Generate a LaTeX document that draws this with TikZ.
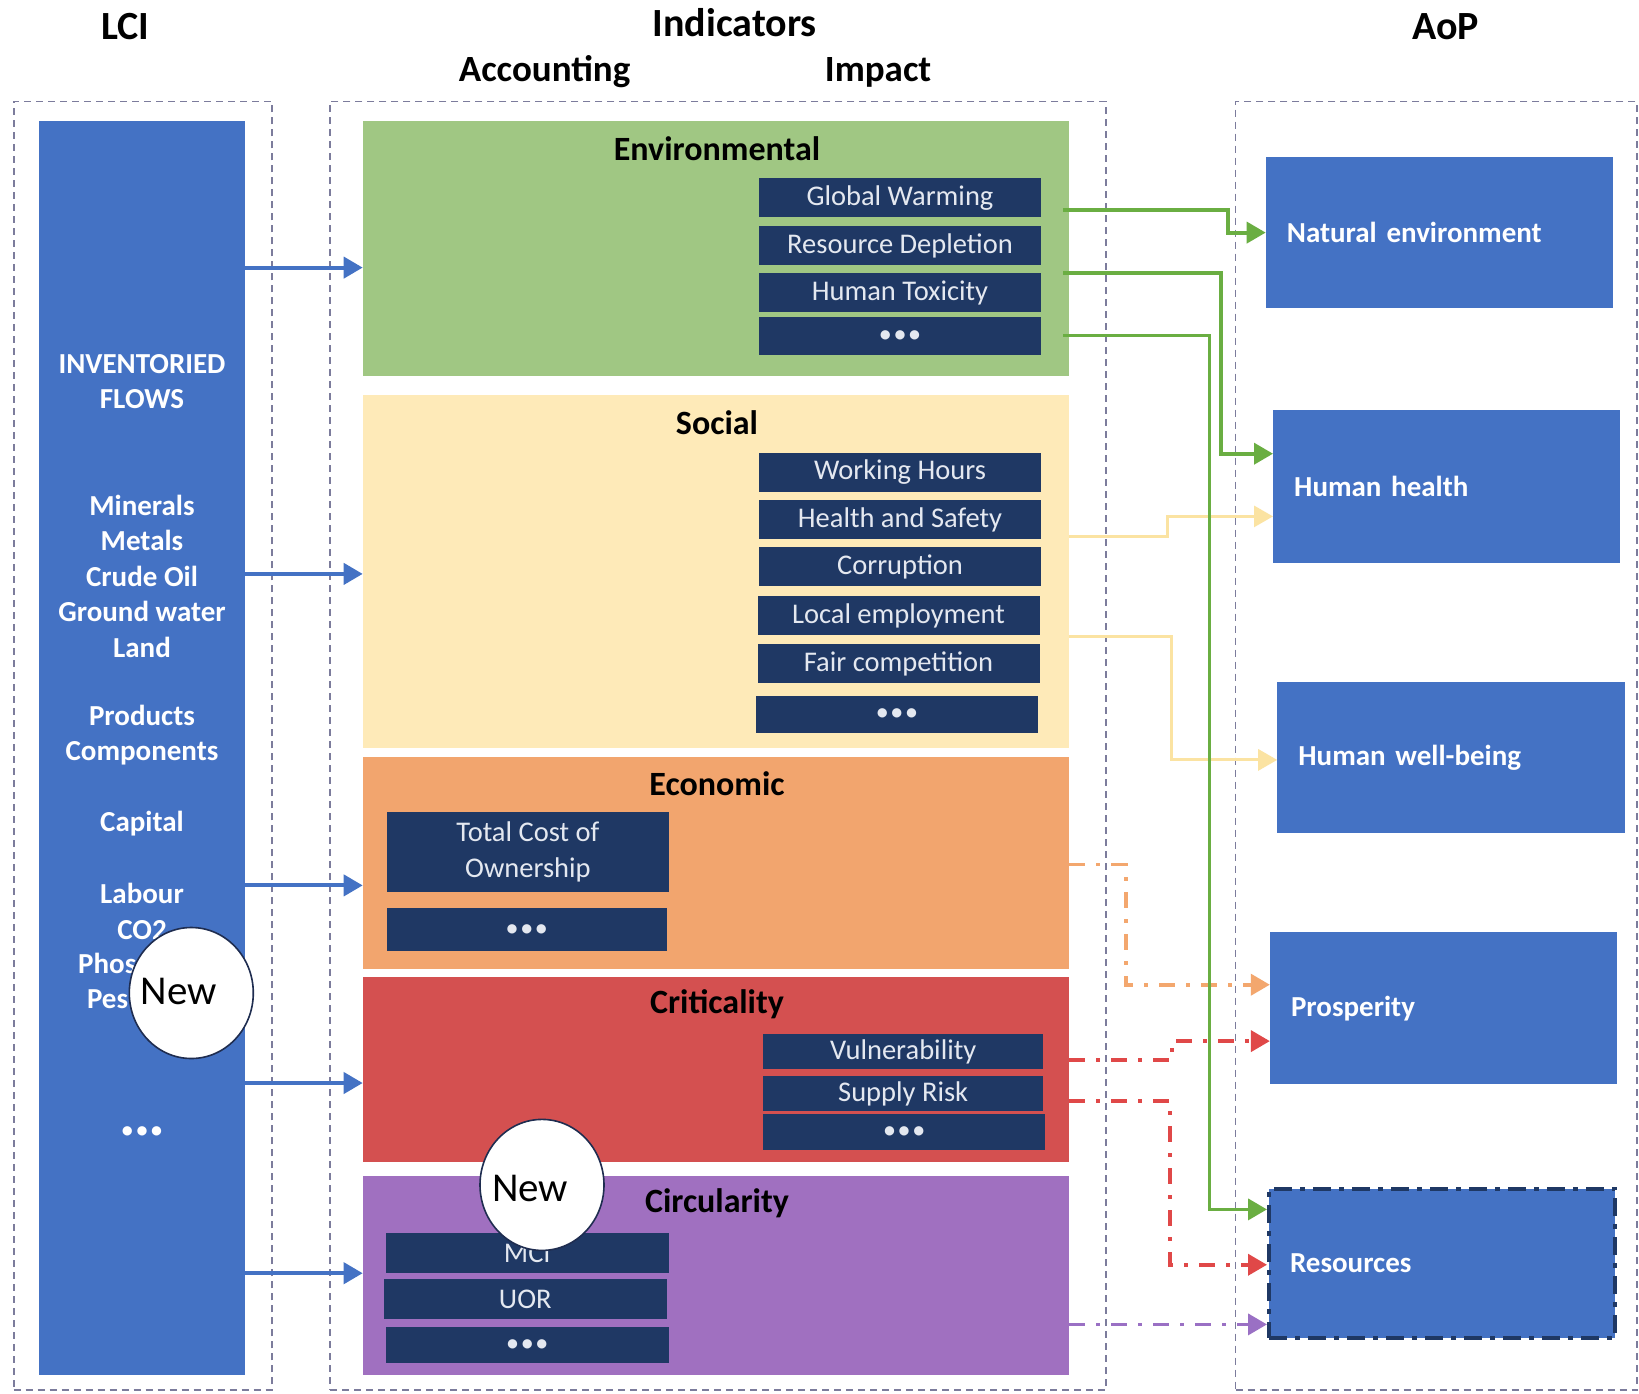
\documentclass[tikz,border=0pt]{standalone}
\usepackage{fontspec}
\setmainfont{Carlito}
\usetikzlibrary{arrows.meta,shapes.geometric,calc}
\definecolor{lciblue}{HTML}{4472C4}
\definecolor{navy}{HTML}{1F3864}
\definecolor{envg}{HTML}{A0C783}
\definecolor{socy}{HTML}{FEEAB8}
\definecolor{ecoo}{HTML}{F2A56E}
\definecolor{crit}{HTML}{D45050}
\definecolor{circ}{HTML}{A070C0}
\definecolor{gline}{HTML}{6AAE42}
\definecolor{yline}{HTML}{FBE3A2}
\definecolor{oline}{HTML}{F3A76E}
\definecolor{rline}{HTML}{E04848}
\definecolor{pline}{HTML}{9A70C4}
\definecolor{dashc}{HTML}{7C7C9C}
\definecolor{boxtxt}{HTML}{E4E8F0}
\definecolor{circedge}{HTML}{1F2D50}
\begin{document}
\begin{tikzpicture}[x=1pt,y=-1pt,
  encl/.style={draw=dashc, line width=1.8pt, dash pattern=on 7pt off 5pt, inner sep=0, minimum height=1288.8pt},
  panel/.style={minimum width=706.6pt, inner sep=0, outer sep=0},
  ptitle/.style={font=\fontsize{34}{40}\bfseries\selectfont, inner sep=0},
  htitle/.style={font=\fontsize{40}{48}\bfseries\selectfont, inner sep=0, anchor=base},
  stitle/.style={font=\fontsize{37}{44}\bfseries\selectfont, inner sep=0, anchor=base},
  ib/.style={fill=navy, text=boxtxt, font=\fontsize{28.5}{35.5}\selectfont, inner sep=0, minimum width=282pt, minimum height=39pt, align=center},
  dots/.style={font=\fontsize{22}{22}\bfseries\selectfont},
  lcit/.style={text=white, font=\fontsize{29}{35.5}\bfseries\selectfont, inner sep=0, align=center},
  aop/.style={fill=lciblue, text=white, font=\fontsize{29}{35}\bfseries\selectfont, inner xsep=21pt, inner ysep=0, text width=305pt, align=left},
  tip/.style={-{Triangle[length=19pt,width=21pt]}},
  barrow/.style={draw=lciblue, line width=4pt, tip},
  gconn/.style={draw=gline, line width=3.8pt, tip},
  yconn/.style={draw=yline, line width=3pt, tip},
  ddconn/.style={line width=3.8pt, dash pattern=on 16pt off 11pt on 4pt off 11pt, tip},
  newc/.style={ellipse, draw=circedge, line width=1.6pt, fill=white, minimum width=124pt, minimum height=131pt, inner sep=0},
  newt/.style={font=\fontsize{41}{48}\selectfont, inner sep=0}
]
\useasboundingbox (0,0) rectangle (1639,1393);
\fill[white] (0,0) rectangle (1639,1393);

% headings
\node[htitle] (hlci) at (125.4,39.7) {LCI};
\node[htitle] (hind) at (734.8,36.6) {Indicators};
\node[htitle] (haop) at (1445.7,39.7) {AoP};
\node[stitle] (hacc) at (544.6,81.5) {Accounting};
\node[stitle] (himp) at (878.1,81.5) {Impact};

% enclosures
\node[encl, minimum width=258.2pt] (lcibox) at (142.7,745.8) {};
\node[encl, minimum width=775.6pt] (indbox) at (718.1,745.8) {};
\node[encl, minimum width=401.5pt] (aopbox) at (1436.25,745.8) {};

% LCI column
\node[fill=lciblue, minimum width=205.9pt, minimum height=1253.3pt, inner sep=0] (lci) at (141.65,747.95) {};
\node[lcit] (l1) at (142,381.5) {INVENTORIED\\FLOWS};
\node[lcit] (l2) at (142,576) {Minerals\\Metals\\Crude Oil\\Ground water\\Land};
\node[lcit] (l3) at (142,734.9) {Products\\Components};
\node[lcit] (l4) at (142,823.7) {Capital};
\node[lcit] (l5) at (142,911.5) {Labour\\CO2};
\node[lcit, anchor=west] (l6) at (78,963.8) {Phos};
\node[lcit, anchor=west] (l7) at (86.8,999.3) {Pes};
\node[lcit, dots] (l8) at (142,1132.1) {•\,•\,•};

% panels
\node[panel, fill=envg, minimum height=255pt] (env) at (716,248.8) {};
\node[panel, fill=socy, minimum height=353.3pt] (soc) at (716,571.75) {};
\node[panel, fill=ecoo, minimum height=212.2pt] (eco) at (716,862.9) {};
\node[panel, fill=crit, minimum height=185pt] (cri) at (716,1069.9) {};
\node[panel, fill=circ, minimum height=198.6pt] (cir) at (716,1275.3) {};

\node[ptitle] (tenv) at (717,148.4) {Environmental};
\node[ptitle] (tsoc) at (717,422.3) {Social};
\node[ptitle] (teco) at (717,784) {Economic};
\node[ptitle] (tcri) at (717,1004.5) {Criticality};
\node[ptitle] (tcir) at (717,1203.1) {Circularity};

% environmental
\node[ib] (gw) at (900,197.6) {Global Warming};
\node[ib] (rd) at (900,245.6) {Resource Depletion};
\node[ib] (ht) at (900,292.7) {Human Toxicity};
\node[ib, dots, minimum height=38.6pt] (ed) at (900,336) {•\,•\,•};

% social
\node[ib] (wh) at (900,472.5) {Working Hours};
\node[ib] (hs) at (900,519.5) {Health and Safety};
\node[ib] (co) at (900,566.5) {Corruption};
\node[ib] (le) at (898.5,615.7) {Local employment};
\node[ib] (fc) at (898.5,663.8) {Fair competition};
\node[ib, dots, minimum height=36.6pt] (sd) at (896.9,714.5) {•\,•\,•};

% economic
\node[ib, minimum width=282.2pt, minimum height=79.4pt] (tco) at (527.9,851.9) {Total Cost of\\Ownership};
\node[ib, dots, minimum width=280pt, minimum height=42.8pt] (ecd) at (526.8,929.8) {•\,•\,•};

% criticality
\node[ib, minimum width=280pt, minimum height=35.5pt] (vu) at (903.2,1051.6) {Vulnerability};
\node[ib, minimum width=280pt, minimum height=35.5pt] (sr) at (903.2,1093.4) {Supply Risk};
\node[ib, dots, minimum width=282pt, minimum height=35.5pt] (crd) at (904.2,1132) {•\,•\,•};

% circularity
\node[ib, minimum width=283.3pt, minimum height=39.7pt] (mci) at (527.3,1253.3) {MCI};
\node[ib, minimum width=283.3pt, minimum height=39.7pt] (uor) at (525.3,1299.3) {UOR};
\node[ib, dots, minimum width=283.3pt, minimum height=36.6pt] (cid) at (527.3,1344.8) {•\,•\,•};

% AoP
\node[aop, minimum height=151.6pt] (ne) at (1439.4,232.6) {Natural environment};
\node[aop, minimum height=153.6pt] (hh) at (1446.7,486.6) {Human health};
\node[aop, minimum height=151.6pt, text width=306pt] (hw) at (1451.4,757.3) {Human well-being};
\node[aop, minimum height=151.6pt] (pr) at (1443.55,1008.2) {Prosperity};
\node[aop, minimum height=149.5pt, text width=304pt, draw=navy, line width=4pt, dash pattern=on 18pt off 8pt on 5pt off 8pt] (re) at (1442,1263.25) {Resources};

% LCI arrows
\coordinate (y1) at (0,267.6);
\coordinate (y2) at (0,573.9);
\coordinate (y3) at (0,885.4);
\coordinate (y4) at (0,1083);
\coordinate (y5) at (0,1273.2);
\draw[barrow] (lci.east |- y1) -- (env.west |- y1);
\draw[barrow] (lci.east |- y2) -- (soc.west |- y2);
\draw[barrow] (lci.east |- y3) -- (eco.west |- y3);
\draw[barrow] (lci.east |- y4) -- (cri.west |- y4);
\draw[barrow] (lci.east |- y5) -- (cir.west |- y5);

% connector starts
\coordinate (g1) at (1063.1,210.1);
\coordinate (g2) at (1063.1,272.8);
\coordinate (g3) at (1063.1,335.5);
\coordinate (s4) at (1069.3,536.2);
\coordinate (s5) at (1069.3,636.6);
\coordinate (o6) at (1069.3,864.5);
\coordinate (r7) at (1069.3,1060);
\coordinate (r8) at (1069.3,1100.7);
\coordinate (p9) at (1069.3,1324.4);

% yellow
\draw[yconn] (s4) -- ++(98.3,0) |- ([yshift=-29.8pt]hh.west);
\draw[yconn] (s5) -- ++(102.5,0) |- ([yshift=-2.6pt]hw.west);
% dash-dot
\draw[ddconn, draw=oline] (o6) -- ++(56.5,0) |- ([yshift=23.5pt]pr.west);
\draw[ddconn, draw=rline] (r7) -- ++(102.5,0) |- ([yshift=-32.9pt]pr.west);
\draw[ddconn, draw=rline] (r8) -- ++(100.4,0) |- ([yshift=-1.5pt]re.west);
\draw[ddconn, draw=pline] (p9) -- (p9 -| re.west);
% green
\draw[gconn] (g1) -- ++(165.1,0) |- (ne.west);
\draw[gconn] (g2) -- ++(157.8,0) |- ([yshift=32.9pt]hh.west);
\draw[gconn] (g3) -- ++(146.3,0) |- ([yshift=53.85pt]re.west);

% New markers
\node[newc] (new1) at (191.3,993) {};
\node[newt] (new1t) at (178.8,991) {New};
\node[newc] (new2) at (542,1184.9) {};
\node[newt] (new2t) at (530,1188.5) {New};
\end{tikzpicture}
\end{document}
